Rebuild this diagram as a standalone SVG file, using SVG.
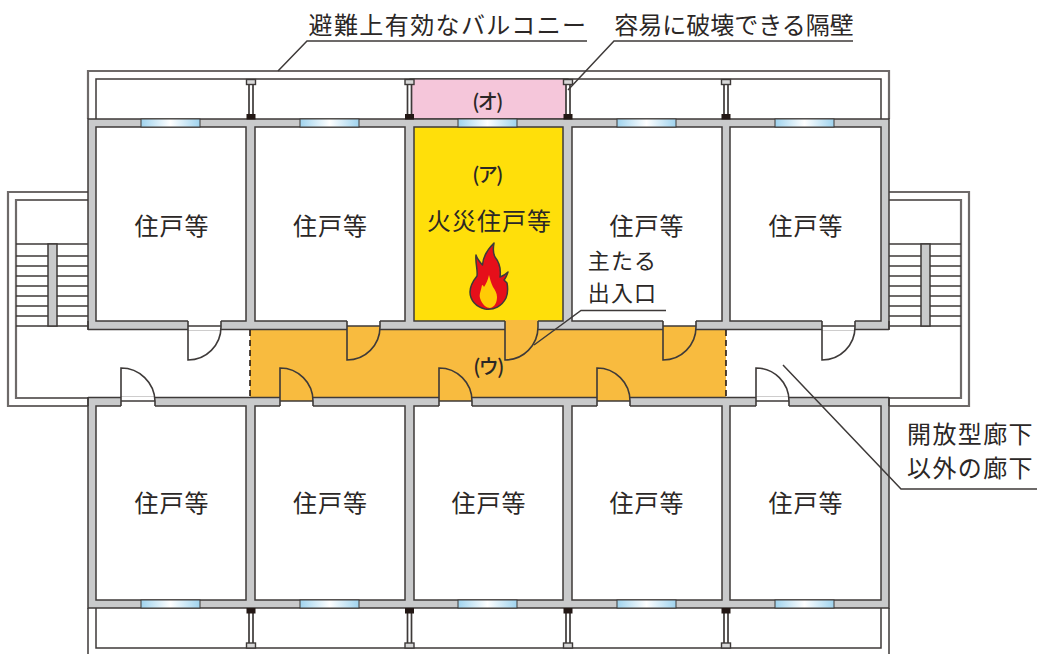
<svg xmlns="http://www.w3.org/2000/svg" width="1041" height="654" viewBox="0 0 1041 654">
<style>
.l{fill:none;stroke:#3e3a39;stroke-width:1.5}
.o{fill:none;stroke:#6e6a69;stroke-width:2.200}
.w{fill:#c9cacb;stroke:#3e3a39;stroke-width:1.5}
.r{fill:#fff;stroke:#3e3a39;stroke-width:1.5}
.g{fill:#fff;stroke:none}
.dl{fill:none;stroke:#3e3a39;stroke-width:1.6}
.win{fill:url(#glass);stroke:#3e3a39;stroke-width:1}
text{font-family:"Noto Sans CJK JP","Noto Sans",sans-serif;fill:#2b2726;font-size:24px;text-anchor:middle;dominant-baseline:central}
.n{letter-spacing:1px}
.lb{letter-spacing:1.400px}
.s{font-size:22px;letter-spacing:1.200px}
.p{font-size:20px;font-weight:500;letter-spacing:-1.500px}
</style>
<defs>
<linearGradient id="glass"><stop offset="0" stop-color="#9fd3ee"/><stop offset=".5" stop-color="#fff"/><stop offset="1" stop-color="#9fd3ee"/></linearGradient>
<g id="post">
<rect x="-2" y="1" width="4" height="35" fill="#fff" stroke="#3e3a39" stroke-width="1.700"/>
<rect x="-4.500" y="0" width="9" height="5" fill="#d8d8d8" stroke="#3e3a39" stroke-width="1.400"/>
<rect x="-4.500" y="34.500" width="9" height="5.500" fill="#231815"/>
</g>
<rect id="wn" width="59" height="8" class="win"/>
</defs>
<rect width="1041" height="654" fill="#fff"/>

<g id="balcony-top">
<path class="o" d="M88 119V71H889V119"/>
<path class="l" d="M96 119V79H881V119"/>
</g>
<g id="balcony-bottom">
<path class="l" d="M88 608V654M889 608V654"/>
<path class="l" d="M96 608V648H881V608"/>
</g>
<g id="stair-left">
<path class="o" d="M88 192H8V406H88"/>
<rect x="16" y="200" width="72" height="198" fill="#fff"/>
<path class="o" d="M88 200H16V398H92"/>
<path class="l" d="M16 244H88M16 256H88M16 266H88M16 276H88M16 286H88M16 296H88M16 306H88M16 316H88M16 326H88"/>
<rect x="48" y="244" width="9" height="82" class="w"/>
</g>
<g id="stair-right">
<path class="o" d="M889 192H969V406H889"/>
<rect x="889" y="200" width="72" height="198" fill="#fff"/>
<path class="o" d="M889 200H961V398H885"/>
<path class="l" d="M889 244H961M889 256H961M889 266H961M889 276H961M889 286H961M889 296H961M889 306H961M889 316H961M889 326H961"/>
<rect x="921" y="244" width="9" height="82" class="w"/>
</g>

<g id="zone-o"><rect x="410" y="79" width="158" height="40" fill="#f5c6da" stroke="#3e3a39" stroke-width="1.200"/></g>

<g id="building">
<rect x="88" y="119" width="801" height="489" class="w"/>
<rect x="96" y="127" width="150" height="194" class="r"/>
<rect x="255" y="127" width="150" height="194" class="r"/>
<rect x="414" y="127" width="149" height="194" fill="#ffdf0a" stroke="#3e3a39" stroke-width="1.500"/>
<rect x="572" y="127" width="150" height="194" class="r"/>
<rect x="730" y="127" width="151" height="194" class="r"/>
<rect x="96" y="406" width="150" height="194" class="r"/>
<rect x="255" y="406" width="150" height="194" class="r"/>
<rect x="414" y="406" width="149" height="194" class="r"/>
<rect x="572" y="406" width="150" height="194" class="r"/>
<rect x="730" y="406" width="151" height="194" class="r"/>
</g>

<g id="corridor">
<rect x="87" y="330" width="803" height="67" fill="#fff"/>
<path class="l" d="M88 329.500H250M726 329.500H889M88 397.500H250M726 397.500H889"/>
<rect x="250" y="329" width="476" height="69" fill="#f8bb3f"/>
<path class="l" d="M250 329.500H726M250 397.500H726"/>
<path fill="none" stroke="#231815" stroke-width="1.600" stroke-dasharray="6 4" d="M250 330V397M726 330V397"/>
<path class="l" d="M88 321V329.500M88 397.500V406M889 321V329.500M889 397.500V406"/>
</g>

<g id="doors">
<rect x="188" y="320" width="33" height="10" class="g"/>
<rect x="347" y="320" width="33" height="6" class="g"/><rect x="347" y="326" width="33" height="5" fill="#f8bb3f"/>
<rect x="505" y="320" width="33" height="11" fill="#f8bb3f"/>
<rect x="663" y="320" width="33" height="6" class="g"/><rect x="663" y="326" width="33" height="5" fill="#f8bb3f"/>
<rect x="822" y="320" width="33" height="10" class="g"/>
<rect x="121" y="397" width="34" height="10" class="g"/>
<rect x="280" y="396" width="33" height="5" fill="#f8bb3f"/><rect x="280" y="401" width="33" height="6" class="g"/>
<rect x="439" y="396" width="33" height="5" fill="#f8bb3f"/><rect x="439" y="401" width="33" height="6" class="g"/>
<rect x="597" y="396" width="33" height="5" fill="#f8bb3f"/><rect x="597" y="401" width="33" height="6" class="g"/>
<rect x="756" y="397" width="33" height="10" class="g"/>
<path class="dl" d="M188 321V360A33 33 0 0 0 221 327V321M188 326H221"/>
<path class="dl" d="M347 321V360A33 33 0 0 0 380 327V321M347 326H380"/>
<path class="dl" d="M505 321V360A33 33 0 0 0 538 327V321"/>
<path class="dl" d="M663 321V360A33 33 0 0 0 696 327V321M663 326H696"/>
<path class="dl" d="M822 321V360A33 33 0 0 0 855 327V321M822 326H855"/>
<path class="dl" d="M121 406V368A34 34 0 0 1 155 401V406M121 401H155"/>
<path class="dl" d="M280 406V368A33 33 0 0 1 313 401V406M280 401H313"/>
<path class="dl" d="M439 406V368A33 33 0 0 1 472 401V406M439 401H472"/>
<path class="dl" d="M597 406V368A33 33 0 0 1 630 401V406M597 401H630"/>
<path class="dl" d="M756 406V368A33 33 0 0 1 789 401V406M756 401H789"/>
</g>

<g id="windows">
<use href="#wn" x="141" y="119"/><use href="#wn" x="300" y="119"/><use href="#wn" x="458" y="119"/><use href="#wn" x="617" y="119"/><use href="#wn" x="775" y="119"/>
<use href="#wn" x="141" y="600"/><use href="#wn" x="300" y="600"/><use href="#wn" x="458" y="600"/><use href="#wn" x="617" y="600"/><use href="#wn" x="775" y="600"/>
</g>
<g id="partitions">
<use href="#post" x="251" y="79.500"/><use href="#post" x="409.500" y="79.500"/><use href="#post" x="568" y="79.500"/><use href="#post" x="726" y="79.500"/>
<use href="#post" transform="translate(251 648) scale(1 -1)"/><use href="#post" transform="translate(409.500 648) scale(1 -1)"/><use href="#post" transform="translate(568 648) scale(1 -1)"/><use href="#post" transform="translate(726 648) scale(1 -1)"/>
</g>

<g id="flame">
<path fill="#e60f1a" stroke="#3e3a39" stroke-width="1.500" stroke-linejoin="round" d="M494 243C488 249 483 256 482.500 265C480 262 477 259 476 255C475 262 478 270 477 276C473 281 470 286 470 292C470 300 476 307 485 309C494 310.500 502 306 506 298C508 293 508 288 507 283L504 280C506 278 507 275 508 272C505 275 503 276 500 277C501 270 499 262 495 257C493 253 493 248 494 243Z"/>
<path fill="#ffcb05" d="M489 275C488 280 486 284 484 287C483 285 482 285 482 285C481 291 479 294 480 298C482 305 487 308 490 308C495 307 497 302 497 297C497 293 495 290 493 287C491 283 490 279 489 275Z"/>
</g>

<g id="connectors">
<path class="l" d="M587 41H307L278 71"/>
<path class="l" d="M853 41H614L568 90"/>
<path class="l" d="M666 310.500H581L534 345"/>
<path class="l" d="M783 365L901 489H1037"/>
</g>

<g id="labels">
<text class="n" x="172" y="224">住戸等</text>
<text class="n" x="330.500" y="224">住戸等</text>
<text class="n" x="647" y="224">住戸等</text>
<text class="n" x="806" y="224">住戸等</text>
<text class="n" x="172" y="501">住戸等</text>
<text class="n" x="330.500" y="501">住戸等</text>
<text class="n" x="489" y="501">住戸等</text>
<text class="n" x="647" y="501">住戸等</text>
<text class="n" x="806" y="501">住戸等</text>
<text class="n" x="489.500" y="219">火災住戸等</text>
<text class="p" x="487" y="100">(オ)</text>
<text class="p" x="487" y="173">(ア)</text>
<text class="p" x="488" y="365">(ウ)</text>
<text class="lb" x="448" y="23">避難上有効なバルコニー</text>
<text x="734" y="23" style="letter-spacing:0">容易に破壊できる隔壁</text>
<text class="s" x="622.500" y="259">主たる</text>
<text class="s" x="622.500" y="291">出入口</text>
<text class="lb" x="970.500" y="432">開放型廊下</text>
<text class="lb" x="970.500" y="466">以外の廊下</text>
</g>
</svg>
